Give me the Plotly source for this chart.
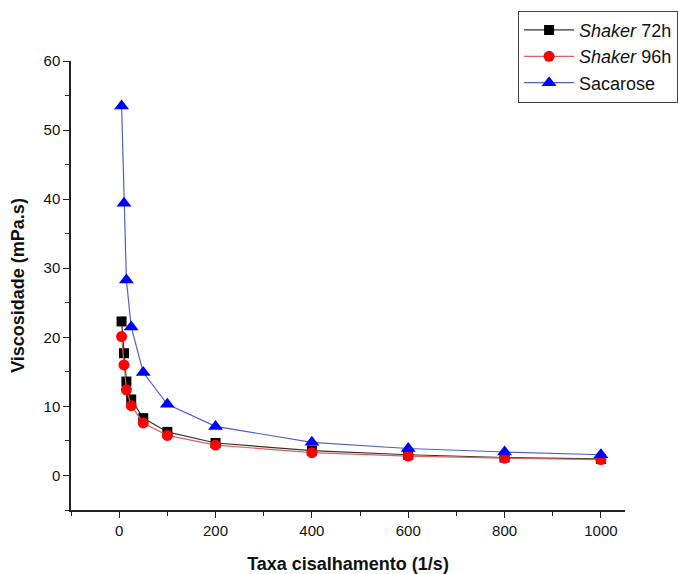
import plotly.graph_objects as go

# Shear rate (1/s)
shear_rate = [5, 10, 15, 25, 50, 100, 200, 400, 600, 800, 1000]

# Viscosity (mPa.s) for each sample
shaker_72h = [22.3, 17.7, 13.6, 11.0, 8.3, 6.3, 4.7, 3.6, 3.0, 2.6, 2.4]
shaker_96h = [20.1, 16.0, 12.4, 10.1, 7.6, 5.8, 4.4, 3.3, 2.8, 2.5, 2.3]
sacarose = [53.5, 39.4, 28.3, 21.5, 14.9, 10.3, 7.1, 4.8, 3.9, 3.4, 3.0]

series = [
    ("<i>Shaker</i> 72h", shaker_72h, "#000000", "#333333", "square", 10),
    ("<i>Shaker</i> 96h", shaker_96h, "#ff0000", "#e06060", "circle", 11),
    ("Sacarose", sacarose, "#0000ff", "#5060c8", "triangle-up", 13),
]

fig = go.Figure()
for name, vals, mcol, lcol, sym, size in series:
    fig.add_trace(go.Scatter(
        x=shear_rate, y=vals, name=name, mode="lines+markers",
        line=dict(color=lcol, width=1.2),
        marker=dict(symbol=sym, size=size, color=mcol, line=dict(width=0)),
    ))

tick_font = dict(family="Liberation Sans, Arial", size=15, color="#111111")
title_font = dict(family="Liberation Sans, Arial", size=18, color="#111111")

fig.update_layout(
    width=678, height=574,
    margin=dict(l=71, r=53, t=61, b=64, autoexpand=False),
    paper_bgcolor="white", plot_bgcolor="white",
    showlegend=True,
    legend=dict(
        x=0.807, y=1.112, xanchor="left", yanchor="top",
        bordercolor="#444444", borderwidth=1, bgcolor="white",
        font=dict(family="Liberation Sans, Arial", size=18, color="#111111"),
        tracegroupgap=0, itemwidth=50,
    ),
    xaxis=dict(
        range=[-100, 1050], tickvals=[0, 200, 400, 600, 800, 1000],
        ticks="outside", ticklen=6, tickwidth=1, tickcolor="#222222",
        minor=dict(dtick=100, tick0=0, ticks="outside", ticklen=4, tickcolor="#222222"),
        showline=True, linecolor="#222222", linewidth=1.5,
        showgrid=False, zeroline=False, tickfont=tick_font,
        title=dict(text="<b>Taxa cisalhamento (1/s)</b>", font=title_font, standoff=22),
    ),
    yaxis=dict(
        range=[-5, 60], tickvals=[0, 10, 20, 30, 40, 50, 60],
        ticks="outside", ticklen=6, tickwidth=1, tickcolor="#222222",
        minor=dict(dtick=5, tick0=0, ticks="outside", ticklen=4, tickcolor="#222222"),
        showline=True, linecolor="#222222", linewidth=1.5,
        showgrid=False, zeroline=False, tickfont=tick_font,
        title=dict(text="<b>Viscosidade (mPa.s)</b>", font=title_font, standoff=14),
    ),
)

fig.write_html("out.html")
